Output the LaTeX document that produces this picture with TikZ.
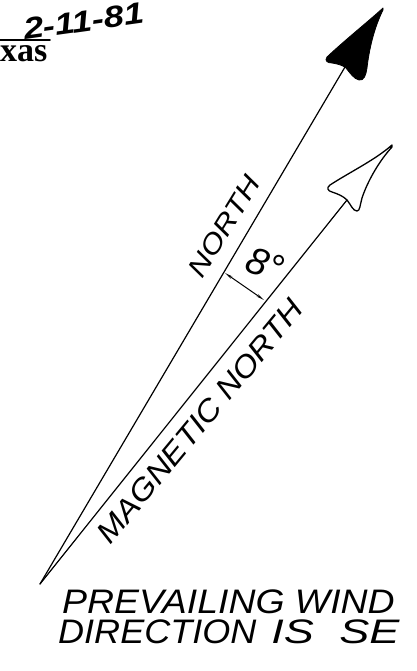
\documentclass[tikz,border=0pt]{standalone}
\usepackage{fontspec}
\setmainfont{Liberation Sans}
\newfontfamily\serifbold{Liberation Serif}
\usetikzlibrary{arrows.meta}
\begin{document}
\begin{tikzpicture}[x=1pt,y=-1pt,line cap=round,line join=round,
  shaft/.style={line width=1.2pt},
  lbl/.style={inner sep=0pt,anchor=base,font=\fontsize{30}{32}\selectfont\itshape},
  note/.style={inner sep=0pt,anchor=base west,font=\fontsize{34}{36}\selectfont\itshape},
  dim/.style={line width=1pt,{Stealth[length=8pt,width=2.6pt]}-{Stealth[length=8pt,width=2.6pt]}}]
\useasboundingbox (0,0) rectangle (416,671);
\fill[white] (0,0) rectangle (416,671);
% header
\node[inner sep=0pt,anchor=base west,font=\fontsize{30}{32}\selectfont\bfseries\itshape] (date) at (22,40) {\rotatebox{8}{\scalebox{1.2}[1]{2-11-81}}};
\draw[line width=1.6pt] (0,40) coordinate (ul1) -- (50,40) coordinate (ul2);
\node[inner sep=0pt,anchor=base west,font=\fontsize{34}{36}\selectfont\serifbold\bfseries] (state) at (0,62) {xas};
% lines
\coordinate (O) at (40,584);
\coordinate (NJ) at (345,67);
\coordinate (MJ) at (347,200);
\draw[shaft] (O) -- (NJ);
\draw[shaft] (O) -- (MJ);
% filled head (true north)
\filldraw[line width=0.8pt] (383,8) .. controls (370,20) and (345,40) .. (327,57)
  .. controls (324,61) and (328,63) .. (332,63)
  .. controls (338,64) and (342,65) .. (346,68)
  .. controls (350,73) and (354,79) .. (359,80)
  .. controls (364,81) and (366,75) .. (367,68)
  .. controls (369,50) and (374,28) .. (383,10) -- cycle;
% open head (magnetic north)
\draw[line width=1.3pt] (392,145) .. controls (375,160) and (350,172) .. (330,185)
  .. controls (326,188) and (328,191) .. (332,192)
  .. controls (338,194) and (343,196) .. (347,200)
  .. controls (351,205) and (353,211) .. (357,211)
  .. controls (360,211) and (360,205) .. (362,198)
  .. controls (368,180) and (380,160) .. (392,147) -- cycle;
% angle dimension
\coordinate (D1) at (225,273);
\coordinate (D2) at (264,300);
\draw[dim] (D1) -- (D2);
% labels
\node[lbl,rotate=58.5,font=\fontsize{27}{29}\selectfont\itshape] (north) at (232,231) {\scalebox{1.18}[1]{NORTH}};
\node[inner sep=0pt,rotate=-20,font=\fontsize{38}{40}\selectfont\itshape] (angle) at (265,264) {8°};
\node[lbl,rotate=50.4] (mag) at (208,428) {\scalebox{1.12}[1]{MAGNETIC NORTH}};
\node[note] (wind1) at (62,613) {\scalebox{1.10}[1]{PREVAILING WIND}};
\node[note] (wind2) at (58,643) {\scalebox{1.06}[1]{DIRECTION\hspace{14pt}\scalebox{1.25}[1]{IS}\hspace{24pt}\scalebox{1.25}[1]{SE}}};
\end{tikzpicture}
\end{document}
